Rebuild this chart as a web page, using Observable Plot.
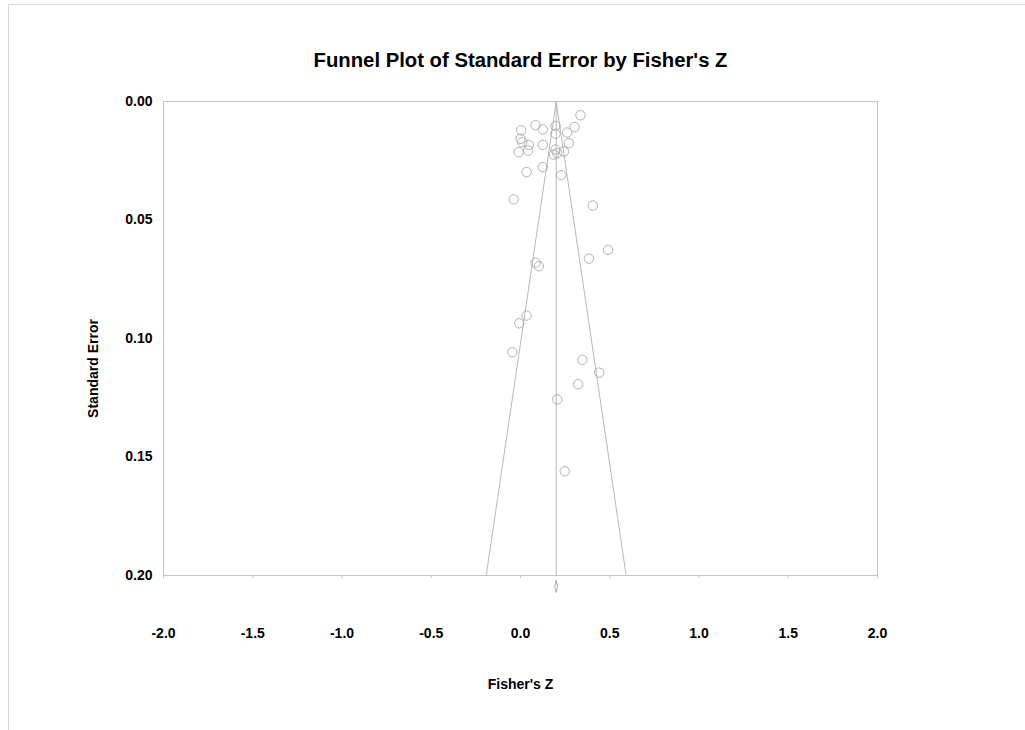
<!DOCTYPE html>
<html>
<head>
<meta charset="utf-8">
<script src="https://cdn.jsdelivr.net/npm/d3@7"></script>
<script src="https://cdn.jsdelivr.net/npm/@observablehq/plot@0.6"></script>
<style>
  html, body { margin: 0; padding: 0; background: #fff; }
  #wrap { position: relative; width: 1025px; height: 730px; overflow: hidden; }
  #border { position: absolute; left: 8px; top: 4px; width: 1030px; height: 740px; border: 1px solid #d8d8d8; box-sizing: border-box; }
  #chart { position: absolute; left: 0; top: 0; }
  svg { font-family: "Liberation Sans", Arial, sans-serif; }
</style>
</head>
<body>
<div id="wrap"><div id="border"></div><div id="chart"></div></div>
<script>
// Fisher's Z effect sizes of the studies
const fisherZ = [0.336, 0.303, 0.084, 0.125, 0.196, 0.196, 0.262, 0.004, 0.000, 0.010,
                 0.046, 0.043, -0.010, 0.125, 0.271, 0.196, 0.187, 0.206, 0.243, 0.125,
                 0.034, 0.228, -0.038, 0.405, 0.491, 0.383, 0.084, 0.103, 0.034, -0.007,
                 -0.046, 0.347, 0.441, 0.323, 0.206, 0.248];
// Standard errors of the studies
const stdError = [0.0058, 0.0108, 0.0100, 0.0118, 0.0103, 0.0136, 0.0131, 0.0122, 0.0157, 0.0172,
                  0.0183, 0.0207, 0.0214, 0.0183, 0.0176, 0.0203, 0.0224, 0.0218, 0.0211, 0.0277,
                  0.0298, 0.0311, 0.0413, 0.0439, 0.0626, 0.0663, 0.0680, 0.0695, 0.0903, 0.0936,
                  0.1058, 0.1090, 0.1144, 0.1193, 0.1257, 0.1560];
// Combined estimate and funnel extent
const combinedZ = 0.2;
const funnelSE = [0, 0.2];
const xTicks = [-2.0, -1.5, -1.0, -0.5, 0.0, 0.5, 1.0, 1.5, 2.0];
const yTicks = [0.00, 0.05, 0.10, 0.15, 0.20];

const studies = fisherZ.map((z, i) => ({z, se: stdError[i]}));
const leftLine = funnelSE.map(se => ({z: combinedZ - 1.96 * se, se}));
const rightLine = funnelSE.map(se => ({z: combinedZ + 1.96 * se, se}));
const centerLine = funnelSE.map(se => ({z: combinedZ, se}));
const diamond = [
  {z: combinedZ, se: 0.2021}, {z: combinedZ + 0.008, se: 0.2046},
  {z: combinedZ, se: 0.2072}, {z: combinedZ - 0.008, se: 0.2046}, {z: combinedZ, se: 0.2021}
];

const lineColor = "#c4c4c4";
const fmtX = d => d.toFixed(1);   // keeps a plain hyphen for negatives
const fmtY = d => d.toFixed(2);

const chart = Plot.plot({
  width: 1025,
  height: 730,
  marginLeft: 163,
  marginRight: 148,
  marginTop: 101,
  marginBottom: 155,
  style: {fontFamily: "Liberation Sans, Arial, sans-serif", background: "transparent"},
  x: {domain: [-2, 2], ticks: xTicks, label: null},
  y: {domain: [0, 0.2], reverse: true, ticks: yTicks, label: null},
  marks: [
    Plot.frame({stroke: lineColor}),
    Plot.axisX({ticks: xTicks, tickFormat: fmtX, tickSize: 3, tickPadding: 50,
                stroke: lineColor, fontSize: 14, fontWeight: "bold", fill: "#000", label: null}),
    Plot.axisY({ticks: yTicks, tickFormat: fmtY, tickSize: 0, tickPadding: 11,
                fontSize: 14, fontWeight: "bold", fill: "#000", label: null}),
    Plot.line(centerLine, {x: "z", y: "se", stroke: "#b8b8b8", strokeWidth: 1}),
    Plot.line(leftLine, {x: "z", y: "se", stroke: "#b8b8b8", strokeWidth: 1}),
    Plot.line(rightLine, {x: "z", y: "se", stroke: "#b8b8b8", strokeWidth: 1}),
    Plot.line(diamond, {x: "z", y: "se", stroke: "#aaa", strokeWidth: 1, clip: false}),
    Plot.dot(studies, {x: "z", y: "se", r: 4.7, stroke: "#a8a8a8", strokeWidth: 0.9, fill: "none"}),
    Plot.text(["Funnel Plot of Standard Error by Fisher's Z"], {
      frameAnchor: "top", dy: -49, fontSize: 20.3, fontWeight: "bold", fill: "#000"}),
    Plot.text(["Fisher's Z"], {
      frameAnchor: "bottom", dy: 113, fontSize: 14, fontWeight: "bold", fill: "#000"}),
    Plot.text(["Standard Error"], {
      frameAnchor: "left", textAnchor: "middle", dx: -70, dy: 30, rotate: -90,
      fontSize: 14, fontWeight: "bold", fill: "#000"})
  ]
});
document.getElementById("chart").appendChild(chart);
</script>
</body>
</html>
